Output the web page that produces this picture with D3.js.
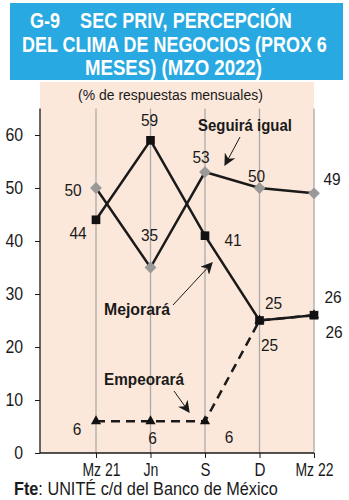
<!DOCTYPE html>
<html><head><meta charset="utf-8">
<script src="https://cdn.jsdelivr.net/npm/d3@7"></script>
<style>
body{margin:0;background:#fff;}
svg{display:block;}
text{font-family:"Liberation Sans","Arial",sans-serif;}
</style></head>
<body>
<svg id="c" width="349" height="500"></svg>
<script>
const categories = ["Mz 21","Jn","S","D","Mz 22"];
const mejorara = [44,59,41,25,26];
const seguira = [50,35,53,50,49];
const empeorara = [6,6,6,25,26];
const yTicks = [0,10,20,30,40,50,60];
const titleLines = ["G-9    SEC PRIV, PERCEPCIÓN","DEL CLIMA DE NEGOCIOS (PROX 6","MESES) (MZO 2022)"];

const svg = d3.select("#c");
const ink = "#1a1a1a";
const fit = (sel,w)=>sel.attr("textLength",w).attr("lengthAdjust","spacingAndGlyphs");
function squeeze(sel,x0,y0,w){
  sel.attr("x",0).attr("y",0);
  const n = sel.node().getComputedTextLength();
  sel.attr("transform",`translate(${x0},${y0}) scale(${w/n},1)`);
  return sel;
}

// banner
svg.append("rect").attr("x",10).attr("y",3).attr("width",333).attr("height",77).attr("fill","#29a9e1");
const tb = [28,52,75];
const tx = [30,22,85], tw = [262,305,177];
titleLines.forEach((t,i)=>{
  squeeze(svg.append("text").attr("fill","#fff").attr("font-size",22).attr("font-weight","bold")
    .attr("xml:space","preserve").text(t), tx[i], tb[i], tw[i]);
});

// plot
const x = d3.scalePoint().domain(categories).range([96,314]);
const y = d3.scaleLinear().domain([0,65]).range([453,108.5]);

svg.append("rect").attr("x",40).attr("y",82).attr("width",274).attr("height",371).attr("fill","#fce8da");

squeeze(svg.append("text").attr("font-size",14.5).attr("fill",ink).text("(% de respuestas mensuales)"),78,100,185);

// gridlines
svg.append("g").selectAll("line").data(categories).join("line")
  .attr("x1",d=>x(d)).attr("x2",d=>x(d)).attr("y1",y(65)).attr("y2",y(0))
  .attr("stroke","#aaa").attr("stroke-width",1.3);

// axes
const yAx = svg.append("g").attr("transform","translate(40,0)")
  .call(d3.axisLeft(y).tickValues(yTicks).tickSize(5).tickPadding(12));
yAx.select(".domain").attr("stroke",ink).attr("stroke-width",1.3).attr("d","M0,"+y(65)+"V"+y(0));
yAx.selectAll(".tick line").attr("stroke",ink);
yAx.selectAll("text").attr("font-size",17.5).attr("fill",ink).attr("font-family",null)
  .each(function(d){ fit(d3.select(this), String(d).length*8.8); });

const xAx = svg.append("g").attr("transform","translate(0,453)")
  .call(d3.axisBottom(x).tickSize(5).tickPadding(6));
xAx.select(".domain").attr("stroke",ink).attr("stroke-width",1.3).attr("d","M40,0H314");
xAx.selectAll(".tick line").attr("stroke",ink);
const xw = {"Mz 21":38,"Jn":15,"S":10,"D":11,"Mz 22":38};
xAx.selectAll("text").attr("font-size",17.5).attr("fill",ink).attr("font-family",null)
  .each(function(d){ fit(d3.select(this), xw[d]); });
xAx.selectAll("text").filter(d=>d==="Mz 21").attr("dx",5);

const line = d3.line().x((d,i)=>x(categories[i])).y(d=>y(d));

svg.append("path").attr("d",line(seguira)).attr("fill","none").attr("stroke",ink).attr("stroke-width",2.5);
svg.append("path").attr("d",line(mejorara)).attr("fill","none").attr("stroke",ink).attr("stroke-width",2.5);
svg.append("path").attr("d",line(empeorara)).attr("fill","none").attr("stroke",ink).attr("stroke-width",2.5)
  .attr("stroke-dasharray","9,6");

// markers
svg.append("g").selectAll("path").data(seguira).join("path")
  .attr("transform",(d,i)=>`translate(${x(categories[i])},${y(d)}) rotate(45)`)
  .attr("d",d3.symbol(d3.symbolSquare,70)).attr("fill","#999");
svg.append("g").selectAll("path").data(mejorara).join("path")
  .attr("transform",(d,i)=>`translate(${x(categories[i])},${y(d)})`)
  .attr("d",d3.symbol(d3.symbolSquare,75)).attr("fill","#111");
svg.append("g").selectAll("path").data(empeorara).join("path")
  .attr("transform",(d,i)=>`translate(${x(categories[i])},${y(d)})`)
  .attr("d",d3.symbol(d3.symbolTriangle,45)).attr("fill","#111");

// value labels
const off = {
  mej:[[-18,13],[-1,-20],[28,4],[14,-18],[19,-18]],
  seg:[[-23,2],[-1,-33],[-4,-15],[-3,-12],[18,-14]],
  emp:[[-19,8],[2,17],[24,16],[10,24],[20,17]]
};
function labels(arr,o){
  svg.append("g").selectAll("text").data(arr).join("text")
    .attr("x",(d,i)=>x(categories[i])+o[i][0]-String(d).length*4.3).attr("y",(d,i)=>y(d)+o[i][1]+6)
    .attr("font-size",17).attr("fill",ink).text(d=>d)
    .each(function(d){ fit(d3.select(this), String(d).length*8.6); });
}
labels(mejorara,off.mej);
labels(seguira,off.seg);
labels(empeorara,off.emp);

// series names and arrows
const defs = svg.append("defs");
defs.append("marker").attr("id","ah2").attr("viewBox","0 0 10 10").attr("refX",9).attr("refY",5)
  .attr("markerWidth",12).attr("markerHeight",12).attr("markerUnits","userSpaceOnUse").attr("orient","auto")
  .append("path").attr("d","M0,0L10,5L0,10L3,5Z").attr("fill",ink);

squeeze(svg.append("text").attr("font-size",16).attr("font-weight","bold").attr("fill",ink).text("Seguirá igual"),198,131,94);
svg.append("line").attr("x1",240).attr("y1",137).attr("x2",225).attr("y2",165).attr("stroke",ink).attr("stroke-width",1).attr("marker-end","url(#ah2)");

squeeze(svg.append("text").attr("font-size",16).attr("font-weight","bold").attr("fill",ink).text("Mejorará"),104,315,66);
svg.append("line").attr("x1",173).attr("y1",305).attr("x2",212).attr("y2",263).attr("stroke",ink).attr("stroke-width",1).attr("marker-end","url(#ah2)");

squeeze(svg.append("text").attr("font-size",16).attr("font-weight","bold").attr("fill",ink).text("Empeorará"),104,385,80);
svg.append("line").attr("x1",174).attr("y1",391).attr("x2",189).attr("y2",412).attr("stroke",ink).attr("stroke-width",1).attr("marker-end","url(#ah2)");

// source
const src = svg.append("text").attr("font-size",17.5).attr("fill",ink);
src.append("tspan").attr("font-weight","bold").text("Fte");
src.append("tspan").text(": UNITÉ c/d del Banco de México");
squeeze(src,14,495,264);
</script>
</body></html>
